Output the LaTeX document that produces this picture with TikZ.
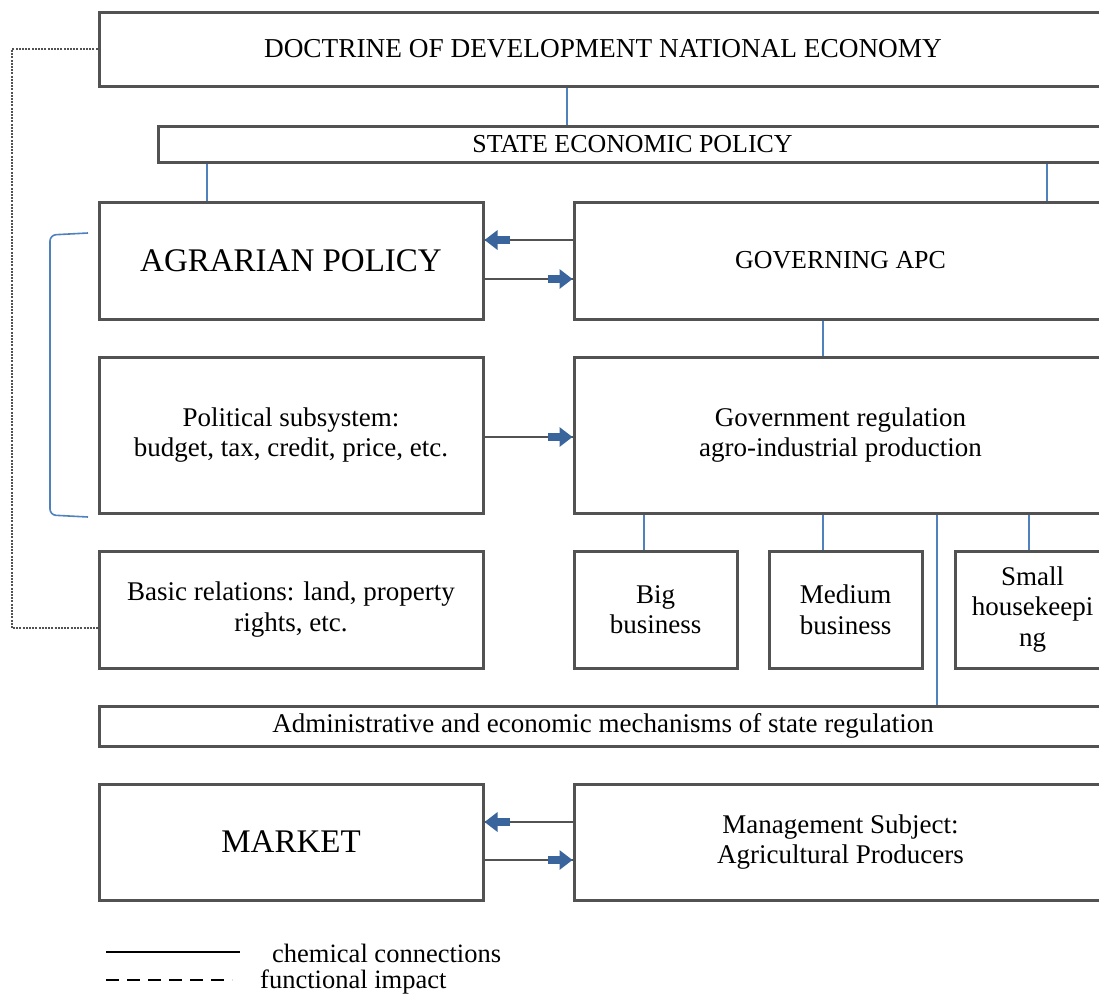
\documentclass[tikz,border=0pt]{standalone}
\usepackage{fontspec}
\setmainfont{Liberation Serif}
\usetikzlibrary{arrows.meta}

\definecolor{boxgray}{RGB}{82,82,82}
\definecolor{linkblue}{RGB}{79,129,189}
\definecolor{arrblue}{RGB}{58,100,156}

\begin{document}
\begin{tikzpicture}[x=1pt,y=-1pt,
box/.style={draw=boxgray, line width=3pt, align=center, inner sep=2pt, font=\fontsize{27}{30.5}\selectfont},
link/.style={draw=linkblue, line width=1.6pt},
flow/.style={draw=boxgray, line width=2pt, postaction={draw=arrblue, line width=8pt, shorten <=63pt, -{Triangle[length=13pt,width=19pt]}}},
func/.style={draw=boxgray, line width=1.1pt, dash pattern=on 2pt off 1.2pt},
legend/.style={anchor=base west, inner sep=0pt, font=\fontsize{26.5}{30.5}\selectfont}]

\clip (0,0) rectangle (1099,994);

\node[box, minimum width=1008pt, minimum height=74pt, font=\fontsize{27.3}{31}\selectfont] (doc) at (603,49) {DOCTRINE OF DEVELOPMENT NATIONAL ECONOMY};

\node[box, minimum width=949pt, minimum height=36pt, font=\fontsize{25.9}{30}\selectfont] (sep) at (632.5,144) {STATE ECONOMIC POLICY};

\node[box, minimum width=384pt, minimum height=117pt, font=\fontsize{33}{36}\selectfont] (agr) at (291,260.5) {AGRARIAN POLICY};

\node[box, minimum width=533pt, minimum height=117pt, font=\fontsize{25.9}{30}\selectfont] (gov) at (840.5,260.5) {GOVERNING APC};

\node[box, minimum width=384pt, minimum height=156pt] (pol) at (291,435) {Political subsystem:\\budget, tax, credit, price, etc.};

\node[box, minimum width=533pt, minimum height=156pt] (reg) at (840.5,435) {Government regulation\\agro-industrial production};

\node[box, minimum width=384pt, minimum height=117pt] (basic) at (291,609.5) {Basic relations: land, property\\rights, etc.};

\node[box, minimum width=163pt, minimum height=117pt] (big) at (655.5,609.5) {Big\\business};

\node[box, minimum width=153pt, minimum height=117pt] (med) at (845.5,609.5) {Medium\\business};

\node[box, minimum width=155pt, minimum height=117pt] (small) at (1032.5,609.5) {Small\\housekeepi\\ng};

\node[box, minimum width=1008pt, minimum height=40pt] (adm) at (603,726) {Administrative and economic mechanisms of state regulation};

\node[box, minimum width=384pt, minimum height=116pt, font=\fontsize{33}{36}\selectfont] (market) at (291,842) {MARKET};

\node[box, minimum width=533pt, minimum height=116pt] (subj) at (840.5,842) {Management Subject:\\Agricultural Producers};

\draw[link] ([xshift=-36pt]doc.south) -- ([xshift=-65.5pt]sep.north);

\draw[link] ([xshift=-425.5pt]sep.south) -- ([xshift=-84pt]agr.north);

\draw[link] ([xshift=414.5pt]sep.south) -- ([xshift=206.5pt]gov.north);

\draw[link] ([xshift=-17.5pt]gov.south) -- ([xshift=-17.5pt]reg.north);

\draw[link] ([xshift=-196.5pt]reg.south) -- ([xshift=-11.5pt]big.north);

\draw[link] ([xshift=-17.5pt]reg.south) -- ([xshift=-22.5pt]med.north);

\draw[link] ([xshift=188.5pt]reg.south) -- ([xshift=-3.5pt]small.north);

\draw[link] ([xshift=96.5pt]reg.south) -- ([xshift=334pt]adm.north);

\draw[flow] ([yshift=20.5pt]gov.west) -- ([yshift=20.5pt]agr.east);

\draw[flow] ([yshift=-18.5pt]agr.east) -- ([yshift=-18.5pt]gov.west);

\draw[flow] ([yshift=-2pt]pol.east) -- ([yshift=-2pt]reg.west);

\draw[flow] ([yshift=20pt]subj.west) -- ([yshift=20pt]market.east);

\draw[flow] ([yshift=-18pt]market.east) -- ([yshift=-18pt]subj.west);

\draw[link, rounded corners=6pt] (88,233) -- (50,235) -- (50,515) -- (88,517);

\draw[func] (doc.west) -- (12,49) |- ([yshift=-18.5pt]basic.west);

\coordinate (solidA) at (106,952);
\coordinate (solidB) at (240,952);
\coordinate (dashA) at (106,980);
\coordinate (dashB) at (232,980);

\draw[black, line width=1.3pt] (solidA) -- (solidB);

\draw[black, line width=1.3pt, dash pattern=on 13pt off 8pt] (dashA) -- (dashB);

\node[legend] (chem) at (272,962) {chemical connections};

\node[legend] (funct) at (260,988) {functional impact};

\end{tikzpicture}
\end{document}
